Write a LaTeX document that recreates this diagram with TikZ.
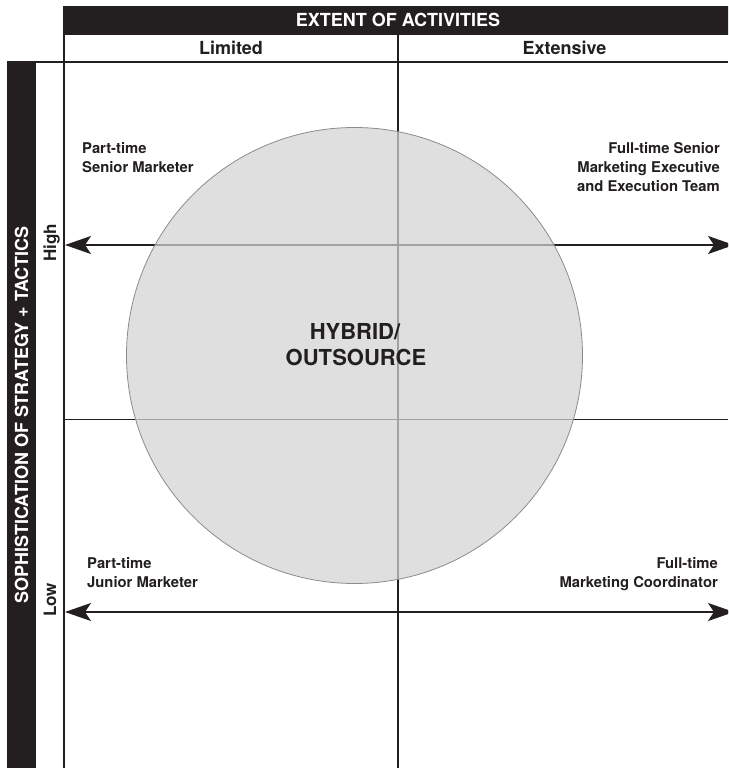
\documentclass[tikz,border=0pt]{standalone}
\usepackage{fontspec}
\setmainfont{TeX Gyre Heros}
\usetikzlibrary{arrows.meta}
\definecolor{ink}{HTML}{231F20}
\definecolor{circfill}{gray}{0.83}
\definecolor{circline}{gray}{0.55}
\begin{document}
\begin{tikzpicture}[x=1pt,y=-1pt,
  rule/.style={draw=ink, line width=1.9pt},
  bar/.style={fill=ink, draw=none, inner sep=0, anchor=north west},
  bartext/.style={text=white, font=\bfseries\fontsize{18}{20}\selectfont, inner sep=0},
  colhead/.style={text=ink, font=\bfseries\fontsize{18}{20}\selectfont, inner sep=0, anchor=base},
  rowhead/.style={text=ink, font=\bfseries\fontsize{17}{19}\selectfont, inner sep=0, rotate=90, anchor=base},
  lbl/.style={text=ink, font=\bfseries\fontsize{14.8}{19}\selectfont, inner sep=0},
  dbl/.style={draw=ink, line width=1.9pt, {Stealth[length=26pt,width=18pt,inset=6pt]}-{Stealth[length=26pt,width=18pt,inset=6pt]}},
  hub/.style={circle, fill=circfill, fill opacity=0.72, draw=circline, line width=0.8pt, minimum size=456pt, inner sep=0},
  hubtext/.style={text=ink, font=\bfseries\fontsize{22}{26}\selectfont, inner sep=0, anchor=base}
]
\useasboundingbox (0,0) rectangle (728,768);
\clip (0,0) rectangle (728,768);
\fill[white] (0,0) rectangle (728,768);
% bars
\node[bar, minimum width=666pt, minimum height=29pt] (topbar) at (63,6) {};
\node[bar, minimum width=29pt, minimum height=710pt] (sidebar) at (7,62) {};
\node[bartext, anchor=base] (extent) at (398,27) {EXTENT OF ACTIVITIES};
\node[bartext, rotate=90, anchor=center] (soph) at (21.5,415) {SOPHISTICATION OF STRATEGY + TACTICS};
% grid
\coordinate (gTL) at (64,6);
\coordinate (gBL) at (64,768);
\coordinate (mT) at (398,35);
\coordinate (mB) at (398,768);
\coordinate (hL) at (7,62);
\coordinate (hR) at (728,62);
\coordinate (cL) at (64,419.5);
\coordinate (cR) at (728,419.5);
\draw[rule] (gTL) -- (gBL);
\draw[rule] (mT) -- (mB);
\draw[rule] (hL) -- (hR);
\draw[rule] (cL) -- (cR);
% column / row heads
\node[colhead] (limited) at (231,55) {Limited};
\node[colhead] (extensive) at (564.5,55) {Extensive};
\node[rowhead] (high) at (56,243) {High};
\node[rowhead] (low) at (56,600) {Low};
% arrows
\coordinate (aHL) at (65,245);
\coordinate (aHR) at (734,245);
\coordinate (aLL) at (65,612);
\coordinate (aLR) at (734,612);
\draw[dbl] (aHL) -- (aHR);
\draw[dbl] (aLL) -- (aLR);
% labels (base anchor = baseline of last line)
\node[lbl, align=left, anchor=base west] (ptsm) at (82,172) {Part-time\\Senior Marketer};
\node[lbl, align=right, anchor=base east] (ftsm) at (720,191) {Full-time Senior\\Marketing Executive\\and Execution Team};
\node[lbl, align=left, anchor=base west] (ptjm) at (87,587) {Part-time\\Junior Marketer};
\node[lbl, align=right, anchor=base east] (ftmc) at (718,587) {Full-time\\Marketing Coordinator};
% circle
\node[hub] (hub) at (354.5,355.5) {};
\node[hubtext] (hyb1) at (355,339) {HYBRID/};
\node[hubtext] (hyb2) at (356,365) {OUTSOURCE};
\end{tikzpicture}
\end{document}
